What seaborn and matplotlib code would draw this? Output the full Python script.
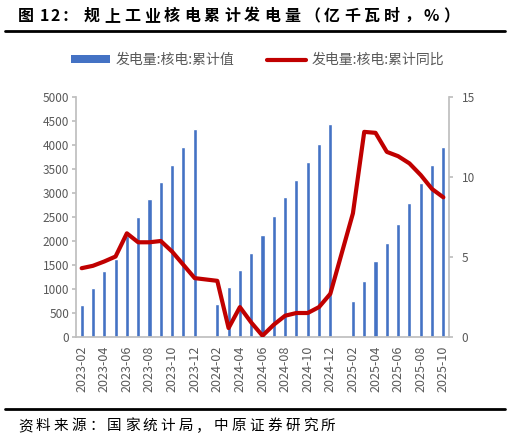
import numpy as np
import pandas as pd
import matplotlib
matplotlib.use('Agg')
import matplotlib.pyplot as plt
from matplotlib.patches import Patch
import seaborn as sns

# 数据
months = ['2023-02', '2023-03', '2023-04', '2023-05', '2023-06', '2023-07', '2023-08',
          '2023-09', '2023-10', '2023-11', '2023-12', '2024-01', '2024-02', '2024-03',
          '2024-04', '2024-05', '2024-06', '2024-07', '2024-08', '2024-09', '2024-10',
          '2024-11', '2024-12', '2025-01', '2025-02', '2025-03', '2025-04', '2025-05',
          '2025-06', '2025-07', '2025-08', '2025-09', '2025-10']
cum_value = [658, 1025, 1371, 1634, 2100, 2500, 2881, 3227, 3580, 3954, 4328, np.nan,
             686, 1039, 1399, 1759, 2119, 2521, 2915, 3276, 3643, 4024, 4446, np.nan,
             741, 1170, 1579, 1967, 2361, 2791, 3213, 3580, 3968]
cum_yoy = [4.30, 4.45, 4.72, 5.03, 6.48, 5.92, 5.92, 6.00, 5.34, 4.51, 3.68, np.nan,
           3.51, 0.56, 1.87, 0.91, 0.08, 0.77, 1.33, 1.50, 1.50, 1.87, 2.70, np.nan,
           7.73, 12.82, 12.76, 11.57, 11.30, 10.85, 10.12, 9.25, 8.73]
tick_labels = months[::2]

df = pd.DataFrame({'月份': months, '累计值': cum_value, '累计同比': cum_yoy})
df['pos'] = np.arange(len(df))

sns.set_theme(style='white')
plt.rcParams['font.family'] = ['Noto Sans CJK SC', 'DejaVu Sans']
plt.rcParams['axes.unicode_minus'] = False

BLUE = '#4472C4'
RED = '#C00000'
GREY = '#595959'
AXC = '#BFBFBF'
W, H = 510, 441

fig = plt.figure(figsize=(W / 100, H / 100), dpi=100)
ax = fig.add_axes([76 / W, 1 - 337 / H, (449 - 76) / W, (337 - 97) / H])

sns.barplot(data=df, x='月份', y='累计值', order=months, color=BLUE, width=0.36,
            saturation=1, ax=ax)
ax.set_xlim(-0.5, len(months) - 0.5)
ax.set_ylim(0, 5000)
ax.set_yticks(range(0, 5001, 500))
ax.set_xticks(np.arange(0, len(months), 2))
ax.set_xticklabels(tick_labels, rotation=90)
ax.set_xlabel('')
ax.set_ylabel('')

ax2 = ax.twinx()
line_df = df.dropna(subset=['累计同比'])
sns.lineplot(data=line_df, x='pos', y='累计同比', color=RED, linewidth=3.0, ax=ax2,
             sort=False)
ax2.set_ylim(0, 15)
ax2.set_yticks([0, 5, 10, 15])
ax2.set_xlim(-0.5, len(months) - 0.5)
ax2.set_xlabel('')
ax2.set_ylabel('')

for a in (ax, ax2):
    for s in a.spines.values():
        s.set_visible(False)
    a.tick_params(colors=GREY, labelsize=8.5)
    a.grid(False)
ax.spines['left'].set_visible(True)
ax.spines['left'].set_color(AXC)
ax.spines['bottom'].set_visible(True)
ax.spines['bottom'].set_color(AXC)
ax2.spines['right'].set_visible(True)
ax2.spines['right'].set_color(AXC)
ax.tick_params(axis='y', length=3, color=AXC, pad=2)
ax.tick_params(axis='x', length=0, pad=6, labelsize=9)
ax2.tick_params(axis='y', length=3, color=AXC, pad=6)

# 图例
handles = [Patch(facecolor=BLUE, edgecolor='none'),
           plt.Line2D([], [], color=RED, lw=3.0)]
fig.legend(handles, ['发电量:核电:累计值', '发电量:核电:累计同比'], loc='center',
           bbox_to_anchor=(0.505, 1 - 60 / H), ncol=2, frameon=False, fontsize=10,
           labelcolor=GREY, handlelength=2.8, handleheight=0.5,
           columnspacing=2.4, handletextpad=0.4)


def tracked_text(x_px, y_px, text, size, track_px, **kw):
    # 逐字绘制以模拟字间距
    r = fig.canvas.get_renderer()
    x = x_px
    for ch in text:
        if ch == ' ':
            x += size * 0.35
            continue
        t = fig.text(x / W, 1 - y_px / H, ch, fontsize=size, va='center', ha='left', **kw)
        bb = t.get_window_extent(renderer=r)
        x += bb.width + track_px


tracked_text(18, 16, '图 12：', 11.5, 1.5, fontweight='bold', color='black')
tracked_text(84, 16, '规上工业核电累计发电量（亿千瓦时，%）', 11.5, 4.0,
             fontweight='bold', color='black')
fig.add_artist(plt.Line2D([5 / W, 505 / W], [1 - 31 / H] * 2, color='black', lw=2.0))
fig.add_artist(plt.Line2D([5 / W, 505 / W], [1 - 409 / H] * 2, color='black', lw=2.0))
tracked_text(18, 426, '资料来源：国家统计局，中原证券研究所', 10.5, 3.2, color='black')

fig.savefig('out.png', dpi=100)
